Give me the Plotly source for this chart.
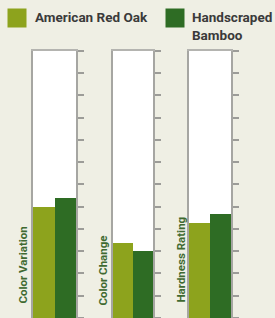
import plotly.graph_objects as go

categories = ["Color Variation", "Color Change", "Hardness Rating"]
series_names = ["American Red Oak", "Handscraped<br>Bamboo"]
red_oak = [5.0, 3.4, 4.3]
bamboo = [5.4, 3.0, 4.7]
y_range = [0, 12]

colors = ["#8da31d", "#2e6c24"]
bg = "#efefe4"
label_color = "#3f6a31"
text_color = "#3a3a3a"
font_family = "Roboto, Open Sans, sans-serif"

W, H = 275, 318
panel_px = [(33, 76), (113, 153), (189, 231)]
label_x_px = [22.5, 102.5, 180.5]
label_len_px = [100, 88, 110]
label_bottom_px = 315
top_px = 50.7
y_dom = [0, 1 - top_px / H]

fig = go.Figure()
layout = dict(
    width=W, height=H,
    margin=dict(l=0, r=0, t=0, b=0),
    paper_bgcolor=bg, plot_bgcolor="white",
    barmode="group", bargap=0, bargroupgap=0,
    showlegend=False,
    font=dict(family=font_family),
)

for i, cat in enumerate(categories):
    n = i + 1
    xa = "x" if n == 1 else f"x{n}"
    ya = "y" if n == 1 else f"y{n}"
    for vals, name, col in [(red_oak, series_names[0], colors[0]), (bamboo, series_names[1], colors[1])]:
        fig.add_trace(go.Bar(x=[cat], y=[vals[i]], name=name, marker=dict(color=col, line=dict(width=0)),
                             xaxis=xa, yaxis=ya, hoverinfo="skip"))
    x0, x1 = panel_px[i]
    layout[f"xaxis{'' if n == 1 else n}"] = dict(
        domain=[x0 / W, x1 / W], anchor=ya, showticklabels=False, ticks="",
        showgrid=False, zeroline=False, showline=True, mirror=True,
        linecolor="#b4b4b0", linewidth=2, range=[-0.5, 0.5], layer="below traces")
    layout[f"yaxis{'' if n == 1 else n}"] = dict(
        domain=y_dom, anchor=xa, side="right", range=y_range, dtick=1,
        showticklabels=False, showgrid=False, zeroline=False,
        showline=True, mirror=True, linecolor="#a6a6a2", linewidth=2,
        ticks="outside", ticklen=6, tickwidth=1.5, tickcolor="#9c9c98",
        layer="below traces")
    layout[f"yaxis{n + 3}"] = dict(
        domain=y_dom, anchor=xa, overlaying=ya, side="right", range=y_range, dtick=1,
        showticklabels=False, showgrid=False, zeroline=False, showline=False,
        ticks="inside", ticklen=8, tickwidth=1.5, tickcolor="#a4a4a0",
        layer="above traces")

fig.update_layout(**layout)

annotations = []
for i, cat in enumerate(categories):
    cy = label_bottom_px - label_len_px[i] / 2
    annotations.append(dict(
        text=cat, x=label_x_px[i] / W, y=1 - cy / H, xref="paper", yref="paper",
        xanchor="center", yanchor="middle", textangle=-90, showarrow=False,
        font=dict(size=11.5, color=label_color, family=font_family, weight="bold")))

legend_sw = [(7.5, 8.5), (165.5, 8.5)]
legend_tx = [(33, 17), (190, 25.5)]
shapes = []
for j, name in enumerate(series_names):
    sx, sy = legend_sw[j]
    shapes.append(dict(type="rect", xref="paper", yref="paper",
                       x0=sx / W, x1=(sx + 19) / W, y0=1 - (sy + 19) / H, y1=1 - sy / H,
                       fillcolor=colors[j], line=dict(width=0)))
    tx, ty = legend_tx[j]
    annotations.append(dict(
        text=name, x=tx / W, y=1 - ty / H, xref="paper", yref="paper",
        xanchor="left", yanchor="middle", align="left", showarrow=False,
        font=dict(size=13.5, color=text_color, family=font_family, weight="bold")))

fig.update_layout(annotations=annotations, shapes=shapes)
fig.write_html("out.html", config={"displayModeBar": False},
               post_script="document.body.style.margin='0';document.body.style.overflow='hidden';")
